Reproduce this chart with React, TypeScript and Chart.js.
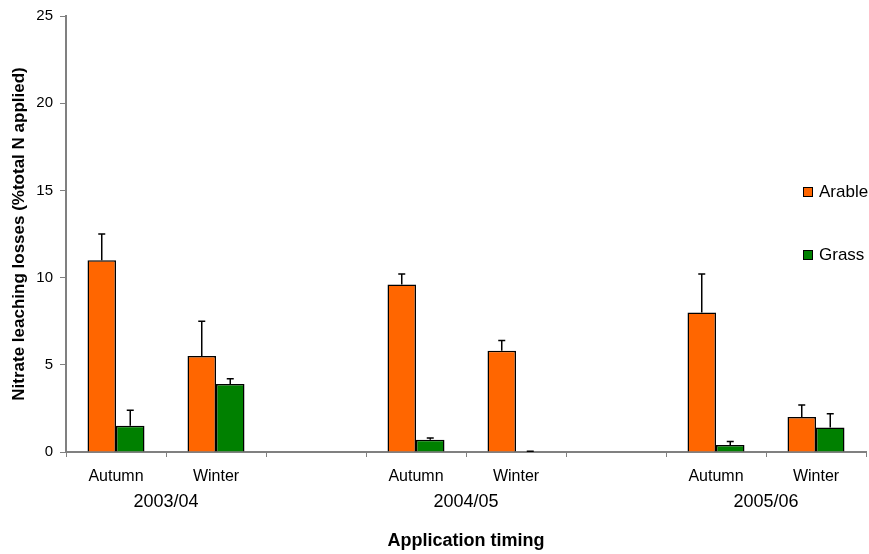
import React, { useEffect, useRef } from 'react';
import { Chart, registerables } from 'chart.js';

Chart.register(...registerables);

// ---- data ----
const categories = ['Autumn', 'Winter', '', 'Autumn', 'Winter', '', 'Autumn', 'Winter'];
const years = ['2003/04', '2004/05', '2005/06'];
const yearGroups = [[0, 1], [3, 4], [6, 7]];

const arable = [11.0, 5.5, null, 9.6, 5.8, null, 8.0, 2.0];
const arableErr = [1.5, 2.0, null, 0.6, 0.6, null, 2.2, 0.7];
const grass = [1.5, 3.9, null, 0.7, 0.0, null, 0.4, 1.4];
const grassErr = [0.9, 0.3, null, 0.1, 0.05, null, 0.2, 0.8];

const yTicks = [0, 5, 10, 15, 20, 25];

const FONT = "'Liberation Sans', Arial, Helvetica, sans-serif";

const errorBarPlugin = {
  id: 'errorBars',
  afterDatasetsDraw(chart: any) {
    const ctx = chart.ctx;
    const yScale = chart.scales.y;
    chart.data.datasets.forEach((ds: any, di: number) => {
      const meta = chart.getDatasetMeta(di);
      meta.data.forEach((bar: any, i: number) => {
        const v = ds.data[i];
        const e = ds.errors ? ds.errors[i] : null;
        if (v == null || e == null) return;
        const x = bar.x;
        const y0 = yScale.getPixelForValue(v);
        const y1 = yScale.getPixelForValue(v + e);
        ctx.save();
        ctx.strokeStyle = '#000';
        ctx.lineWidth = 1.5;
        ctx.beginPath();
        ctx.moveTo(x, y0);
        ctx.lineTo(x, y1);
        ctx.moveTo(x - 3.5, y1);
        ctx.lineTo(x + 3.5, y1);
        ctx.stroke();
        ctx.restore();
      });
    });
  },
};

const yearLabelPlugin = {
  id: 'yearLabels',
  afterDraw(chart: any) {
    const ctx = chart.ctx;
    const xs = chart.scales.x;
    ctx.save();
    ctx.fillStyle = '#000';
    ctx.font = `18px ${FONT}`;
    ctx.textAlign = 'center';
    ctx.textBaseline = 'middle';
    yearGroups.forEach((g, k) => {
      const x = (xs.getPixelForValue(g[0]) + xs.getPixelForValue(g[1])) / 2;
      ctx.fillText(years[k], x, xs.top + 50);
    });
    ctx.restore();
  },
};

const sideLegendPlugin = {
  id: 'sideLegend',
  afterDraw(chart: any) {
    const ctx = chart.ctx;
    const area = chart.chartArea;
    ctx.save();
    chart.data.datasets.forEach((ds: any, i: number) => {
      const cy = area.top + 176 + i * 63;
      const sx = area.right - 63;
      ctx.fillStyle = ds.backgroundColor;
      ctx.fillRect(sx, cy - 5, 9, 9);
      ctx.strokeStyle = '#000';
      ctx.lineWidth = 1;
      ctx.strokeRect(sx + 0.5, cy - 4.5, 9, 9);
      ctx.fillStyle = '#000';
      ctx.font = `17px ${FONT}`;
      ctx.textAlign = 'left';
      ctx.textBaseline = 'middle';
      ctx.fillText(ds.label, sx + 16, cy);
    });
    ctx.restore();
  },
};

export default function App() {
  const ref = useRef<HTMLCanvasElement | null>(null);

  useEffect(() => {
    if (!ref.current) return;
    const chart = new Chart(ref.current, {
      type: 'bar',
      data: {
        labels: categories,
        datasets: [
          {
            label: 'Arable',
            data: arable,
            errors: arableErr,
            backgroundColor: '#FF6600',
            borderColor: '#000',
            borderWidth: 1.5,
            categoryPercentage: 0.57,
            barPercentage: 1,
          } as any,
          {
            label: 'Grass',
            data: grass,
            errors: grassErr,
            backgroundColor: '#008000',
            borderColor: '#000',
            borderWidth: 1.5,
            categoryPercentage: 0.57,
            barPercentage: 1,
          } as any,
        ],
      },
      options: {
        responsive: false,
        animation: false,
        layout: { padding: { top: 11, right: 3, left: 0, bottom: 0 } },
        plugins: {
          legend: { display: false },
          tooltip: { enabled: false },
          title: { display: false },
        },
        scales: {
          x: {
            grid: {
              display: true,
              drawOnChartArea: false,
              drawTicks: true,
              tickLength: 5,
              color: '#808080',
              offset: true,
            },
            border: { display: true, color: '#808080', width: 2 },
            ticks: {
              color: '#000',
              font: { family: FONT, size: 16 },
              padding: 10,
              autoSkip: false,
              maxRotation: 0,
            },
            title: {
              display: true,
              text: 'Application timing',
              color: '#000',
              font: { family: FONT, size: 18, weight: 'bold' },
              padding: { top: 0, bottom: 2 },
            },
            afterFit: (s: any) => {
              s.height = 102;
            },
          },
          y: {
            min: 0,
            max: 25,
            afterBuildTicks: (s: any) => {
              s.ticks = yTicks.map((v) => ({ value: v }));
            },
            grid: {
              display: true,
              drawOnChartArea: false,
              drawTicks: true,
              tickLength: 6,
              color: '#808080',
            },
            border: { display: true, color: '#808080', width: 2 },
            ticks: {
              color: '#000',
              font: { family: FONT, size: 15 },
              padding: 7,
            },
            title: {
              display: true,
              text: 'Nitrate leaching losses (%total N applied)',
              color: '#000',
              font: { family: FONT, size: 17, weight: 'bold' },
              padding: { top: 9, bottom: 0 },
            },
            afterFit: (s: any) => {
              s.width = 66;
            },
          },
        },
      } as any,
      plugins: [errorBarPlugin, yearLabelPlugin, sideLegendPlugin],
    });
    return () => chart.destroy();
  }, []);

  return (
    <div style={{ position: 'fixed', left: 0, top: 0, width: 869, height: 554, background: '#fff' }}>
      <canvas ref={ref} width={869} height={554} style={{ width: 869, height: 554 }} />
    </div>
  );
}
